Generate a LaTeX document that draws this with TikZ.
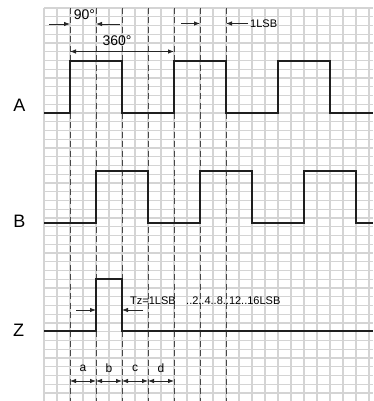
\documentclass[tikz,border=0pt]{standalone}
\usepackage{fontspec}
\setmainfont{Liberation Sans}
\usetikzlibrary{arrows.meta}
\begin{document}
\begin{tikzpicture}[x=1pt,y=-1pt,
 gridline/.style={draw=black!17, line width=1.1pt},
 guide/.style={draw=black!72, line width=1pt, dash pattern=on 6pt off 3.5pt},
 wave/.style={draw=black!88, line width=2.1pt, line join=miter},
 dim/.style={draw=black!85, line width=0.8pt},
 tip/.style={-{Latex[length=6pt,width=4.5pt]}},
 tips/.style={{Latex[length=6pt,width=4.5pt]}-{Latex[length=6pt,width=4.5pt]}},
 sig/.style={font=\fontsize{18}{18}\selectfont, inner sep=0pt},
 lbl/.style={font=\fontsize{11}{11}\selectfont, inner sep=0pt},
 abc/.style={font=\fontsize{12}{12}\selectfont, inner sep=0pt},
 ang/.style={font=\fontsize{14}{14}\selectfont, inner sep=0pt}]
\fill[white] (0,0) rectangle (373,401);
\useasboundingbox (0,0) rectangle (373,401);
% grid
\foreach \i in {0,...,25} \draw[gridline] (44+13*\i,8) -- (44+13*\i,401);
\foreach \i in {0,...,44} \draw[gridline] (44,8+8.75*\i) -- (373,8+8.75*\i);
% dashed guides
\foreach \x in {70,96,...,226} \draw[guide] (\x,8) -- (\x,401);
% waveforms
\draw[wave] (44,113) -- (70,113) -- (70,61) -- (122,61) -- (122,113) -- (174,113) -- (174,61) -- (226,61) -- (226,113) -- (278,113) -- (278,61) -- (330,61) -- (330,113) -- (373,113);
\draw[wave] (44,223) -- (96,223) -- (96,171) -- (148,171) -- (148,223) -- (200,223) -- (200,171) -- (252,171) -- (252,223) -- (304,223) -- (304,171) -- (356,171) -- (356,223) -- (373,223);
\draw[wave] (44,331) -- (96,331) -- (96,279) -- (122,279) -- (122,331) -- (373,331);
% signal labels
\node[sig] (A) at (19.5,105) {A};
\node[sig] (B) at (19.5,221.5) {B};
\node[sig] (Z) at (18.5,330) {Z};
% 90 degree
\coordinate (n1s) at (49,24); \coordinate (n1e) at (70,24);
\coordinate (n2s) at (120,24); \coordinate (n2e) at (96,24);
\draw[dim,tip] (n1s) -- (n1e);
\draw[dim,tip] (n2s) -- (n2e);
\node[ang] (t90) at (84.5,14.5) {90°};
% 360 degree
\coordinate (f1) at (70,51.5); \coordinate (f2) at (174,51.5);
\draw[dim,tips] (f1) -- (f2);
\node[ang] (t360) at (117,41) {360°};
% 1LSB
\coordinate (l1s) at (181,23.5); \coordinate (l1e) at (200,23.5);
\coordinate (l2s) at (248,23.5); \coordinate (l2e) at (226,23.5);
\draw[dim,tip] (l1s) -- (l1e);
\draw[dim,tip] (l2s) -- (l2e);
\node[lbl,anchor=west] (t1lsb) at (250,23.5) {1LSB};
% Tz
\coordinate (z1s) at (76,310); \coordinate (z1e) at (96,310);
\coordinate (z2s) at (143,310); \coordinate (z2e) at (122,310);
\draw[dim,tip] (z1s) -- (z1e);
\draw[dim,tip] (z2s) -- (z2e);
\node[lbl,anchor=west] (ttz) at (130,301) {Tz=1LSB};
\node[lbl,anchor=west] (tmult) at (186,301) {..2..4..8..12..16LSB};
% a b c d
\coordinate (q0) at (70,381); \coordinate (q1) at (96,381);
\coordinate (q2) at (122,381); \coordinate (q3) at (148,381);
\coordinate (q4) at (174,381);
\draw[dim,tips] (q0) -- (q1);
\draw[dim,tips] (q1) -- (q2);
\draw[dim,tips] (q2) -- (q3);
\draw[dim,tips] (q3) -- (q4);
\node[abc] (ta) at (83,368) {a};
\node[abc] (tb) at (109,368) {b};
\node[abc] (tc) at (135,368) {c};
\node[abc] (td) at (161,368) {d};
\end{tikzpicture}
\end{document}
